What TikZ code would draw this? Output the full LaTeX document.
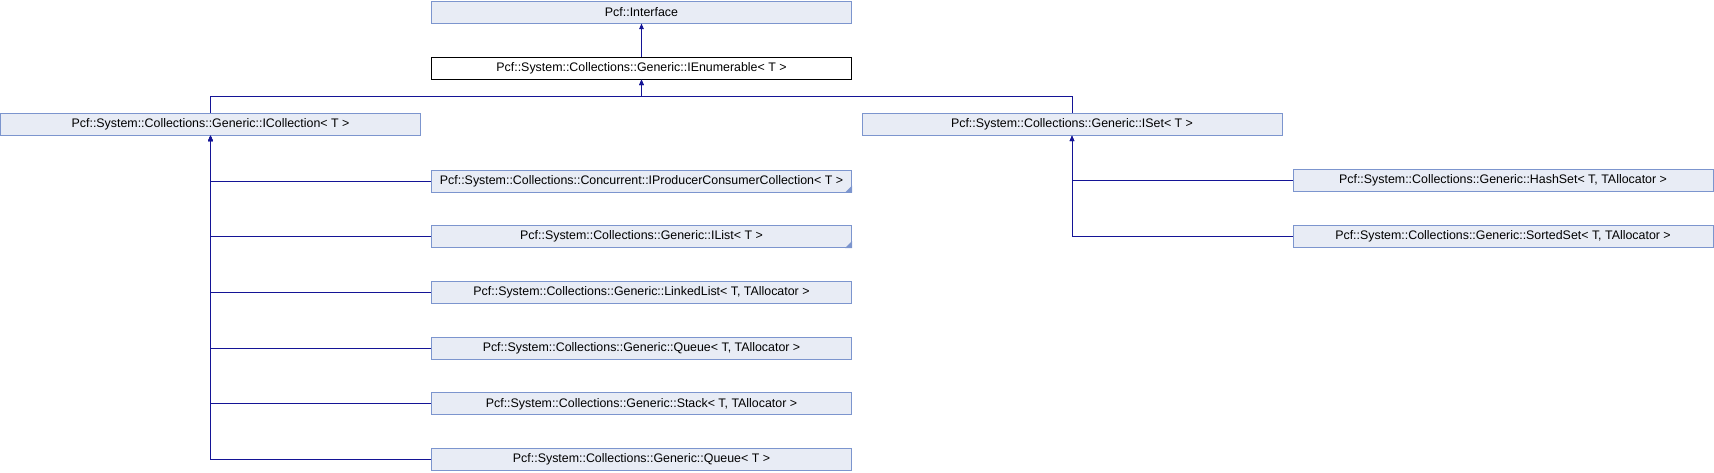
\documentclass[tikz,border=0pt]{standalone}
\usepackage{fontspec}
\setmainfont{Liberation Sans}
\usetikzlibrary{arrows.meta}
\definecolor{classfill}{RGB}{232,236,245}
\definecolor{classline}{RGB}{124,149,206}
\definecolor{edgeblue}{RGB}{20,20,150}

\begin{document}
\begin{tikzpicture}[x=1pt, y=-1pt,
    classbox/.style={draw=classline, fill=classfill, line width=1pt, minimum width=420, minimum height=22, inner sep=0pt, font=\fontsize{12.4}{14}\selectfont},
    topbox/.style={classbox, draw=black, fill=white},
    inherit/.style={draw=edgeblue, line width=1pt, -{Triangle[length=5.5pt,width=4.5pt]}}]
    \useasboundingbox (0,0) rectangle (1714,472);

    % Define layout (pixels of the reference)
    \def\midx{641.5} % column of the middle boxes
    \def\leftx{210.5} % column of ICollection
    \def\rightx{1072} % column of ISet
    \def\farx{1503} % column of the ISet children
    \def\rowgap{55.7} % distance between child rows

    % --- Top of the hierarchy ---
    \node[classbox] (interface) at (\midx, 12) {Pcf::Interface};
    \node[topbox] (ienum) at (\midx, 68) {Pcf::System::Collections::Generic::IEnumerable< T >};
    \draw[inherit] (ienum.north) -- (interface.south);

    % --- Second level, joined on a bus below IEnumerable ---
    \coordinate (bus) at (\midx, 96);
    \node[classbox] (icoll) at (\leftx, 124) {Pcf::System::Collections::Generic::ICollection< T >};
    \node[classbox] (iset) at (\rightx, 124) {Pcf::System::Collections::Generic::ISet< T >};
    \draw[inherit] (icoll.north) |- (bus) -- (ienum.south);
    \draw[inherit] (iset.north) |- (bus) -- (ienum.south);

    % --- Children of ICollection ---
    \foreach \nm/\lbl [count=\k from 0] in {
        iprod/{Pcf::System::Collections::Concurrent::IProducerConsumerCollection< T >},
        ilist/{Pcf::System::Collections::Generic::IList< T >},
        linked/{Pcf::System::Collections::Generic::LinkedList< T, TAllocator >},
        queuea/{Pcf::System::Collections::Generic::Queue< T, TAllocator >},
        stack/{Pcf::System::Collections::Generic::Stack< T, TAllocator >},
        queue/{Pcf::System::Collections::Generic::Queue< T >}} {
        \node[classbox] (\nm) at (\midx, 181+\rowgap*\k) {\lbl};
        \draw[inherit] (\nm.west) -| (icoll.south);
    }

    % corner marks on the boxes that have more children
    \foreach \nm in {iprod, ilist} {
        \fill[classline] (\nm.south east) -- ++(-7,0) -- ++(7,-7) -- cycle;
    }

    % --- Children of ISet ---
    \foreach \nm/\lbl [count=\k from 0] in {
        hashset/{Pcf::System::Collections::Generic::HashSet< T, TAllocator >},
        sortedset/{Pcf::System::Collections::Generic::SortedSet< T, TAllocator >}} {
        \node[classbox] (\nm) at (\farx, 180+56*\k) {\lbl};
        \draw[inherit] (\nm.west) -| (iset.south);
    }
\end{tikzpicture}
\end{document}
